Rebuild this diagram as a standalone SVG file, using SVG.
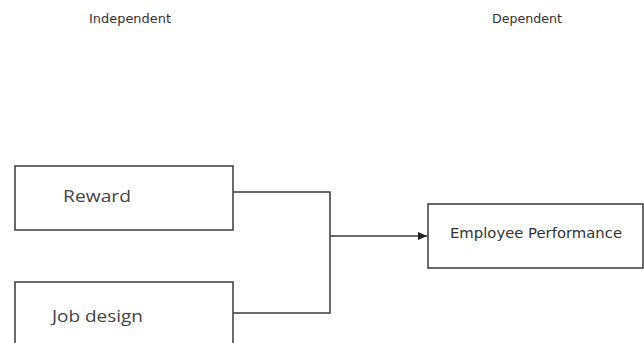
<svg xmlns="http://www.w3.org/2000/svg" width="644" height="343" viewBox="0 0 644 343">
<style>
.box{fill:#fff;stroke:#3a3a3a;stroke-width:1.5}
.lbl{font-family:"DejaVu Sans","Liberation Sans",sans-serif;fill:#333}
.big{font-family:"Open Sans","Liberation Sans",sans-serif;fill:#444}
.conn{fill:none;stroke:#3a3a3a;stroke-width:1.5}
</style>
<defs>
<marker id="arr" markerWidth="10" markerHeight="10" refX="9" refY="5" orient="auto" markerUnits="userSpaceOnUse">
<path d="M0,1 L9,5 L0,9 Z" fill="#222"/>
</marker>
</defs>
<rect width="644" height="343" fill="#fff"/>
<text class="lbl" x="130" y="23" font-size="12" text-anchor="middle" textLength="82" lengthAdjust="spacingAndGlyphs">Independent</text>
<text class="lbl" x="527" y="23" font-size="12" text-anchor="middle" textLength="70" lengthAdjust="spacingAndGlyphs">Dependent</text>
<g id="connectors">
<path class="conn" d="M233,192 H330 V313 H233"/>
<path class="conn" d="M330,236 H427" marker-end="url(#arr)"/>
</g>
<g id="reward">
<rect class="box" x="15" y="166" width="218" height="64"/>
<text class="big" x="63" y="202" font-size="17" textLength="68" lengthAdjust="spacingAndGlyphs">Reward</text>
</g>
<g id="jobdesign">
<rect class="box" x="15" y="282" width="218" height="75"/>
<text class="big" x="52" y="322" font-size="17" textLength="91" lengthAdjust="spacingAndGlyphs">Job design</text>
</g>
<g id="performance">
<rect class="box" x="428" y="204" width="215" height="64"/>
<text class="lbl" x="536" y="238" font-size="13.5" text-anchor="middle" textLength="172" lengthAdjust="spacingAndGlyphs">Employee Performance</text>
</g>
</svg>
